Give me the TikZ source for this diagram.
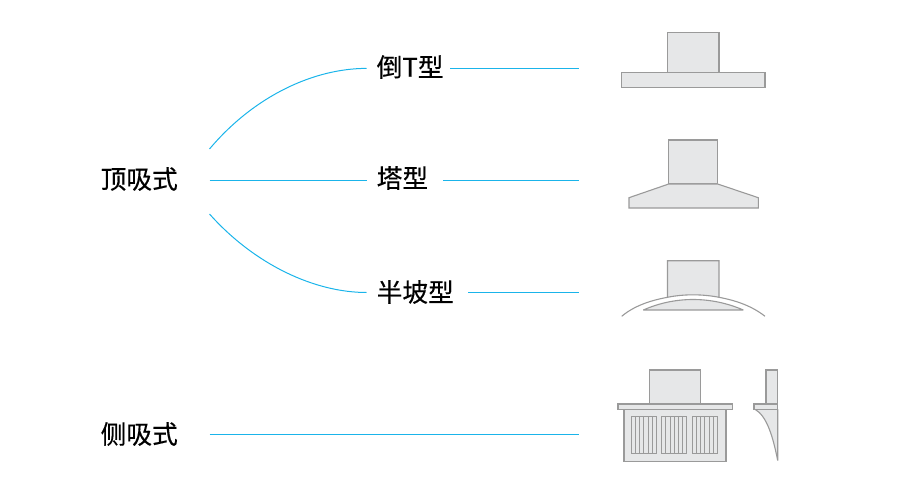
\documentclass[tikz,border=0pt]{standalone}
\usepackage{fontspec}
\setmainfont{Noto Sans CJK SC}[FakeBold=0.4]
\definecolor{linkblue}{HTML}{1AB4EA}
\definecolor{partfill}{HTML}{E6E7E8}
\definecolor{partline}{HTML}{9A9A9A}
\tikzset{
  label text/.style={anchor=west,inner sep=0pt,font=\fontsize{25.7}{27}\selectfont,text=black},
  link/.style={draw=linkblue,line width=1pt},
  part/.style={draw=partline,fill=partfill,line width=1.1pt,line join=miter},
  wire/.style={draw=partline,line width=1.1pt},
  slat/.style={draw=partline,line width=0.8pt},
}
\begin{document}
\begin{tikzpicture}[x=1pt,y=-1pt]
\useasboundingbox (0,0) rectangle (900,500);
% labels
\node[label text] (top) at (100.5,179) {顶吸式};
\node[label text] (side) at (100.5,434) {侧吸式};
\node[label text] (invt) at (376.5,67) {倒T型};
\node[label text] (tower) at (376.5,178) {塔型};
\node[label text] (semi) at (376.5,292) {半坡型};
% connector ends
\coordinate (topA) at (209.5,149);
\coordinate (topB) at (209.5,180.5);
\coordinate (topC) at (209.5,214);
\coordinate (sideA) at (209.5,434);
\coordinate (invtL) at (366.5,68.4);
\coordinate (towerL) at (366.5,180.5);
\coordinate (semiL) at (366.5,292.5);
\coordinate (invtR) at (450,68.4);
\coordinate (towerR) at (443,180.5);
\coordinate (semiR) at (468,292.5);
\coordinate (invtE) at (578.5,68.4);
\coordinate (towerE) at (578.5,180.5);
\coordinate (semiE) at (578.5,292.5);
\coordinate (sideE) at (578.5,434);
% connectors
\draw[link] (topA) .. controls (255,95) and (315,68.4) .. (invtL);
\draw[link] (topB) -- (towerL);
\draw[link] (topC) .. controls (255,265) and (315,292.5) .. (semiL);
\draw[link] (sideA) -- (sideE);
\draw[link] (invtR) -- (invtE);
\draw[link] (towerR) -- (towerE);
\draw[link] (semiR) -- (semiE);
% inverted T hood
\draw[part] (667.5,32.7) rectangle (719,72.7);
\draw[part] (621.7,72.7) rectangle (765,87.3);
% tower hood
\draw[part] (668.7,140) rectangle (717.7,184);
\draw[part] (668.7,184) -- (629,197.7) -- (629,208) -- (758.3,208) -- (758.3,197.7) -- (717.7,184) -- cycle;
% semi-slope hood
\draw[part] (667.5,260.7) -- (719,260.7) -- (719,297.3) .. controls (702,294) and (684,294) .. (667.5,297.3) -- cycle;
\draw[wire] (621.7,316.3) .. controls (634,306) and (650,300.5) .. (667.5,297.3);
\draw[wire] (719,297.3) .. controls (736,300.5) and (752,306) .. (765,316.3);
\draw[part,line join=bevel] (643.3,310) .. controls (675,296) and (711,296) .. (743.3,310) -- cycle;
% side-draft hood, front
\draw[part] (649.3,370) rectangle (700.7,404);
\draw[part] (624,409.3) rectangle (726,461.3);
\draw[part] (618,404) rectangle (732.3,409.3);
\foreach \gx in {631.3,661.7,692.3} {
  \draw[slat] (\gx,416.7) rectangle ++(25,36.6);
  \foreach \i in {1,...,5} \draw[slat] ({\gx+\i*25/6},416.7) -- ++(0,36.6);
}
% side-draft hood, profile
\draw[part] (766,370) rectangle (777.7,404);
\draw[part,line join=bevel] (755,409.3) .. controls (767,416) and (773,437) .. (777.7,460.5) -- (777.7,409.3) -- cycle;
\draw[part] (754,404) rectangle (777.7,409.3);
\end{tikzpicture}
\end{document}
